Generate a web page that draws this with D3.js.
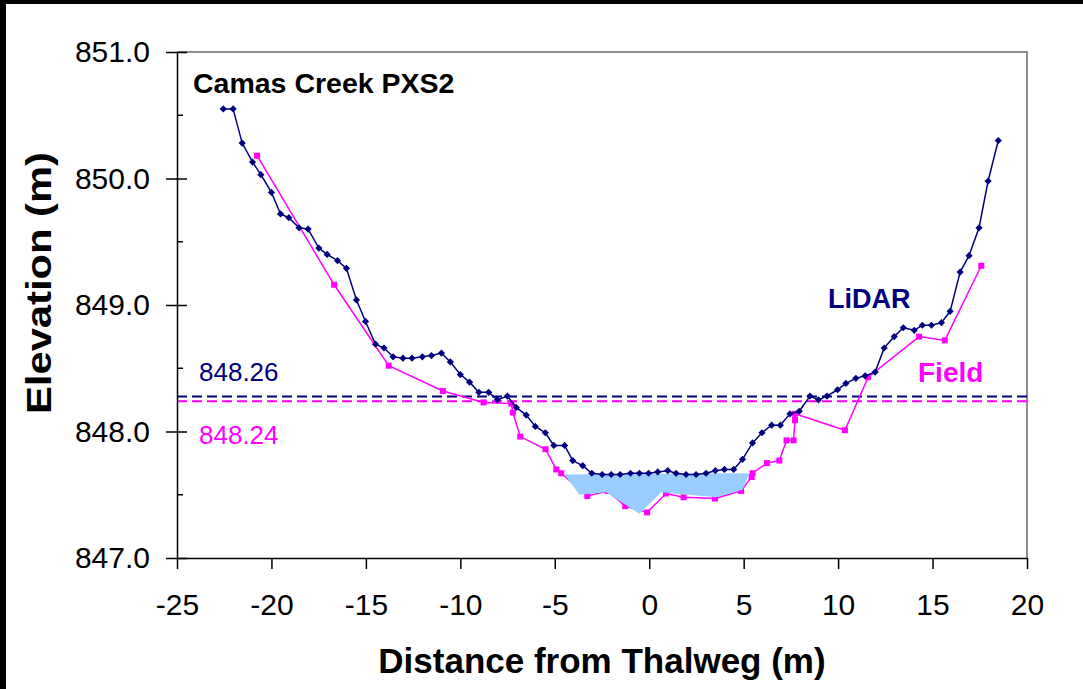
<!DOCTYPE html>
<html>
<head>
<meta charset="utf-8">
<script src="https://cdn.jsdelivr.net/npm/d3@7"></script>
<style>
  body { margin: 0; background: #fff; }
  svg { display: block; font-family: Arial, "Liberation Sans", sans-serif; }
</style>
</head>
<body>
<div id="graph"></div>
<script>
// LiDAR profile (distance from thalweg m, elevation m)
var lidarX = [-22.55,-22.03,-21.55,-21.00,-20.56,-20.00,-19.52,-19.08,-18.54,-18.06,-17.49,-17.05,-16.50,-16.03,
  -15.50,-15.02,-14.49,-14.04,-13.56,-13.04,-12.56,-12.01,-11.53,-11.00,-10.53,-10.00,-9.51,-9.02,-8.50,-8.04,
  -7.51,-7.04,-6.51,-6.03,-5.50,-5.05,-4.48,-4.05,-3.52,-3.04,-2.49,-2.01,-1.54,-0.99,-0.52,-0.03,0.45,0.98,
  1.42,1.95,2.48,3.01,3.50,3.98,4.47,4.94,5.47,5.97,6.48,6.94,7.45,7.94,8.51,8.96,9.41,9.97,10.41,10.94,11.43,
  11.96,12.44,12.97,13.45,14.03,14.46,14.94,15.47,15.93,16.46,16.93,17.46,17.94,18.48];
var lidarZ = [850.55,850.55,850.28,850.13,850.03,849.89,849.72,849.69,849.61,849.60,849.45,849.40,849.35,849.29,
  849.04,848.87,848.69,848.66,848.59,848.58,848.58,848.59,848.60,848.62,848.55,848.45,848.39,848.31,848.31,848.25,
  848.28,848.19,848.13,848.04,847.99,847.89,847.89,847.77,847.73,847.67,847.66,847.66,847.66,847.67,847.67,847.67,847.68,847.69,
  847.67,847.66,847.66,847.67,847.69,847.70,847.70,847.78,847.91,847.99,848.05,848.05,848.14,848.16,848.28,848.25,848.28,848.33,848.38,848.42,848.44,
  848.47,848.66,848.75,848.82,848.80,848.84,848.84,848.86,848.95,849.26,849.39,849.61,849.98,850.30];

// Field survey profile
var fieldX = [-20.76,-16.68,-13.79,-10.92,-8.77,-7.30,-7.22,-6.83,-5.49,-4.92,-4.66,-3.28,-2.20,-1.27,-0.11,
  0.89,1.82,3.48,4.86,5.42,5.47,6.23,6.89,7.27,7.64,7.72,7.72,10.36,11.59,14.29,15.65,17.58];
var fieldZ = [850.18,849.16,848.52,848.32,848.23,848.22,848.15,847.96,847.86,847.70,847.67,847.49,847.53,847.41,847.36,
  847.51,847.48,847.47,847.53,847.64,847.67,847.75,847.77,847.93,847.93,848.09,848.14,848.01,848.43,848.75,848.72,849.31];

// Wetted area polygon
var waterX = [-4.48,-3.69,-2.28,-0.52,0.63,3.54,4.94,5.30];
var waterZ = [847.66,847.50,847.52,847.35,847.52,847.48,847.54,847.67];

// Water surface elevations
var wsLidar = 848.26, wsField = 848.24;

var xTicks = [-25,-20,-15,-10,-5,0,5,10,15,20];
var yMajor = [847,848,849,850,851];
var yMinor = [847.5,848.5,849.5,850.5];

(function() {
var width = 1083, height = 689;
var mLeft = 177, mRight = 1027, mTop = 52, mBottom = 558;
var navy = "#000080", pink = "#ff00ff";

var svg = d3.select("#graph").append("svg")
  .attr("width", width).attr("height", height);

svg.append("rect").attr("width", width).attr("height", height).attr("fill", "#fff");
// black edges of the original frame
svg.append("rect").attr("x", 0).attr("y", 0).attr("width", width).attr("height", 4).attr("fill", "#000");
svg.append("rect").attr("x", 0).attr("y", 0).attr("width", 6).attr("height", height).attr("fill", "#000");

var x = d3.scaleLinear().domain([-25, 20]).range([mLeft, mRight]);
var y = d3.scaleLinear().domain([847, 851]).range([mBottom, mTop]);

// plot frame (top and right gray)
svg.append("path")
  .attr("d", "M" + mLeft + "," + mTop + "H" + mRight + "V" + mBottom)
  .attr("fill", "none").attr("stroke", "#8c8c8c").attr("stroke-width", 2);

// water surface dashed lines
svg.append("line").attr("x1", mLeft).attr("x2", mRight)
  .attr("y1", y(wsLidar) - 2).attr("y2", y(wsLidar) - 2)
  .attr("stroke", navy).attr("stroke-width", 2).attr("stroke-dasharray", "10,5");
svg.append("line").attr("x1", mLeft).attr("x2", mRight)
  .attr("y1", y(wsField)).attr("y2", y(wsField))
  .attr("stroke", pink).attr("stroke-width", 2).attr("stroke-dasharray", "10,5");

var lidar = lidarX.map(function(d, i) { return [d, lidarZ[i]]; });
var field = fieldX.map(function(d, i) { return [d, fieldZ[i]]; });
var water = waterX.map(function(d, i) { return [d, waterZ[i]]; });

var line = d3.line()
  .x(function(d) { return x(d[0]); })
  .y(function(d) { return y(d[1]); });

// field line and markers
svg.append("path").datum(field).attr("d", line)
  .attr("fill", "none").attr("stroke", pink).attr("stroke-width", 1.5);
svg.selectAll(".fpt").data(field).enter().append("rect")
  .attr("class", "fpt")
  .attr("x", function(d) { return x(d[0]) - 3; })
  .attr("y", function(d) { return y(d[1]) - 3; })
  .attr("width", 6).attr("height", 6)
  .attr("fill", pink);

// water area
svg.append("path").datum(water).attr("d", function(d) { return line(d) + "Z"; })
  .attr("fill", "#99ccff").attr("stroke", "none");

// lidar line and markers
svg.append("path").datum(lidar).attr("d", line)
  .attr("fill", "none").attr("stroke", navy).attr("stroke-width", 1.5);
svg.selectAll(".lpt").data(lidar).enter().append("path")
  .attr("class", "lpt")
  .attr("d", d3.symbol(d3.symbolSquare, 26))
  .attr("transform", function(d) { return "translate(" + x(d[0]) + "," + y(d[1]) + ") rotate(45)"; })
  .attr("fill", navy);

// axes
var xAxis = svg.append("g")
  .attr("transform", "translate(0," + mBottom + ")")
  .call(d3.axisBottom(x).tickValues(xTicks).tickSize(11).tickSizeOuter(0).tickPadding(25)
    .tickFormat(function(d) { return d; }));
xAxis.select(".domain").attr("stroke", "#000").attr("stroke-width", 1.5);
xAxis.selectAll(".tick line").attr("stroke", "#000").attr("stroke-width", 1.5);
xAxis.selectAll("text").attr("font-size", "30px").attr("fill", "#000")
  .attr("font-family", "Arial, 'Liberation Sans', sans-serif");

var yAxis = svg.append("g")
  .attr("transform", "translate(" + mLeft + ",0)")
  .call(d3.axisLeft(y).tickValues(yMajor).tickSize(11).tickSizeOuter(0).tickPadding(16)
    .tickFormat(d3.format(".1f")));
yAxis.select(".domain").attr("stroke", "#000").attr("stroke-width", 1.5);
yAxis.selectAll(".tick line").attr("stroke", "#000").attr("stroke-width", 1.5).attr("x2", -11).attr("x1", 10);
yAxis.selectAll("text").attr("font-size", "30px").attr("fill", "#000")
  .attr("font-family", "Arial, 'Liberation Sans', sans-serif");

svg.selectAll(".minor").data(yMinor).enter().append("line")
  .attr("class", "minor")
  .attr("x1", mLeft).attr("x2", mLeft + 6)
  .attr("y1", function(d) { return y(d); }).attr("y2", function(d) { return y(d); })
  .attr("stroke", "#000").attr("stroke-width", 1.5);

// titles and labels
svg.append("text").attr("x", (mLeft + mRight) / 2).attr("y", 673)
  .attr("text-anchor", "middle").attr("font-size", "35px").attr("font-weight", "bold")
  .text("Distance from Thalweg (m)");
svg.append("text").attr("transform", "translate(51,283) rotate(-90)")
  .attr("text-anchor", "middle").attr("font-size", "35px").attr("font-weight", "bold")
  .attr("textLength", 262).attr("lengthAdjust", "spacingAndGlyphs")
  .text("Elevation (m)");
svg.append("text").attr("x", 193).attr("y", 93)
  .attr("font-size", "28.5px").attr("font-weight", "bold")
  .text("Camas Creek PXS2");
svg.append("text").attr("x", 828).attr("y", 308)
  .attr("font-size", "27px").attr("font-weight", "bold").attr("fill", navy)
  .text("LiDAR");
svg.append("text").attr("x", 918).attr("y", 382)
  .attr("font-size", "28px").attr("font-weight", "bold").attr("fill", pink)
  .text("Field");
svg.append("text").attr("x", 199).attr("y", 381)
  .attr("font-size", "26px").attr("fill", navy)
  .text(wsLidar.toFixed(2));
svg.append("text").attr("x", 199).attr("y", 444)
  .attr("font-size", "26px").attr("fill", pink)
  .text(wsField.toFixed(2));
})();
</script>
</body>
</html>
